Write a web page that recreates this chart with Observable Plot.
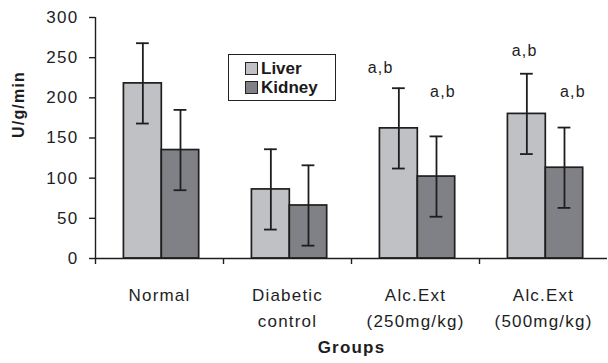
<!DOCTYPE html>
<html>
<head>
<meta charset="utf-8">
<script src="https://cdn.jsdelivr.net/npm/d3@7"></script>
<script src="https://cdn.jsdelivr.net/npm/@observablehq/plot@0.6"></script>
<style>
  html, body { margin: 0; padding: 0; background: #fff; }
  #wrap { position: relative; width: 608px; height: 363px; }
  #wrap svg text { letter-spacing: 1.2px; }
  #wrap svg g[aria-label="y-axis tick label"] text { font-size: 17px; letter-spacing: 1.3px; }
  .legend {
    position: absolute; left: 228px; top: 54px; width: 106px; height: 45px;
    border: 1.4px solid #222; background: #fff;
    font-family: "Liberation Sans", Arial, sans-serif; font-weight: bold; font-size: 17px; color: #1a1a1a;
  }
  .legend .item { position: absolute; left: 16px; display: flex; align-items: center; height: 17px; }
  .legend .sw { width: 11px; height: 11px; border: 1.4px solid #222; margin-right: 3px; }
</style>
</head>
<body>
<div id="wrap"></div>
<script>
// ---- data ----
const groups = ["Normal", "Diabetic\ncontrol", "Alc.Ext\n(250mg/kg)", "Alc.Ext\n(500mg/kg)"];
const series = ["Liver", "Kidney"];
const liver = [218, 86, 162, 180];
const kidney = [135, 66, 102, 113];
const liverErr = [50, 50, 50, 50];
const kidneyErr = [50, 50, 50, 50];
const yTicks = [0, 50, 100, 150, 200, 250, 300];
const annText = ["a,b", "a,b", "a,b", "a,b"];
const annX = [2.227, 2.715, 3.352, 3.73];
const annY = [237, 208, 258.5, 208];
const colors = {Liver: "#c0c1c5", Kidney: "#808186"};

// ---- layout constants ----
const span = {Liver: [0.222, 0.518], Kidney: [0.518, 0.81]};
const cap = 0.05;

const rows = groups.flatMap((g, i) => [
  {i, s: "Liver", v: liver[i], e: liverErr[i]},
  {i, s: "Kidney", v: kidney[i], e: kidneyErr[i]}
]);
const center = d => d.i + (span[d.s][0] + span[d.s][1]) / 2;
const caps = rows.flatMap(d => [{...d, y: d.v - d.e}, {...d, y: d.v + d.e}]);
const ann = annText.map((t, k) => ({t, x: annX[k], y: annY[k]}));
const ink = "#1e1e1e";

const chart = Plot.plot({
  width: 608,
  height: 363,
  marginLeft: 95,
  marginRight: 1,
  marginTop: 17,
  marginBottom: 105,
  style: {fontFamily: "'Liberation Sans', Arial, sans-serif", fontSize: "17px", color: ink, background: "#fff"},
  x: {domain: [0, 4]},
  y: {domain: [0, 300]},
  marks: [
    Plot.rectY(rows, {
      x1: d => d.i + span[d.s][0], x2: d => d.i + span[d.s][1],
      y1: 0, y2: "v",
      fill: d => colors[d.s], stroke: ink, strokeWidth: 1.7
    }),
    Plot.ruleX(rows, {x: center, y1: d => d.v - d.e, y2: d => d.v + d.e, stroke: ink, strokeWidth: 1.8}),
    Plot.ruleY(caps, {y: "y", x1: d => center(d) - cap, x2: d => center(d) + cap, stroke: ink, strokeWidth: 1.8}),
    Plot.ruleX([0], {stroke: ink, strokeWidth: 1.4}),
    Plot.ruleY([0], {stroke: ink, strokeWidth: 1.4}),
    Plot.axisY({ticks: yTicks, tickSize: 6, tickPadding: 11, label: null, stroke: ink, strokeWidth: 1.4, fill: ink, fontSize: 17}),
    Plot.axisX({ticks: [0, 1, 2, 3], tickSize: 6, tickFormat: () => "", label: null, stroke: ink, strokeWidth: 1.4}),
    Plot.axisX({ticks: [0.5, 1.5, 2.5, 3.5], tickSize: 0, tickPadding: 23.5, tickFormat: d => groups[Math.floor(d)],
      lineHeight: 1.55, label: null, fill: ink, fontSize: 17}),
    Plot.text(ann, {x: "x", y: "y", text: "t", fontSize: 16, fill: ink}),
    Plot.text(["U/g/min"], {frameAnchor: "left", dx: -77, rotate: -90, fontWeight: "bold", fontSize: 16, fill: ink}),
    Plot.text(["Groups"], {frameAnchor: "bottom", dy: 94, fontWeight: "bold", fontSize: 17, fill: ink})
  ]
});

const wrap = document.getElementById("wrap");
wrap.appendChild(chart);

// legend built from series/colors
const leg = document.createElement("div");
leg.className = "legend";
series.forEach((s, k) => {
  const it = document.createElement("div");
  it.className = "item";
  it.style.top = (5 + k * 19) + "px";
  const sw = document.createElement("div");
  sw.className = "sw";
  sw.style.background = colors[s];
  const tx = document.createElement("span");
  tx.textContent = s;
  it.appendChild(sw);
  it.appendChild(tx);
  leg.appendChild(it);
});
wrap.appendChild(leg);
</script>
</body>
</html>
